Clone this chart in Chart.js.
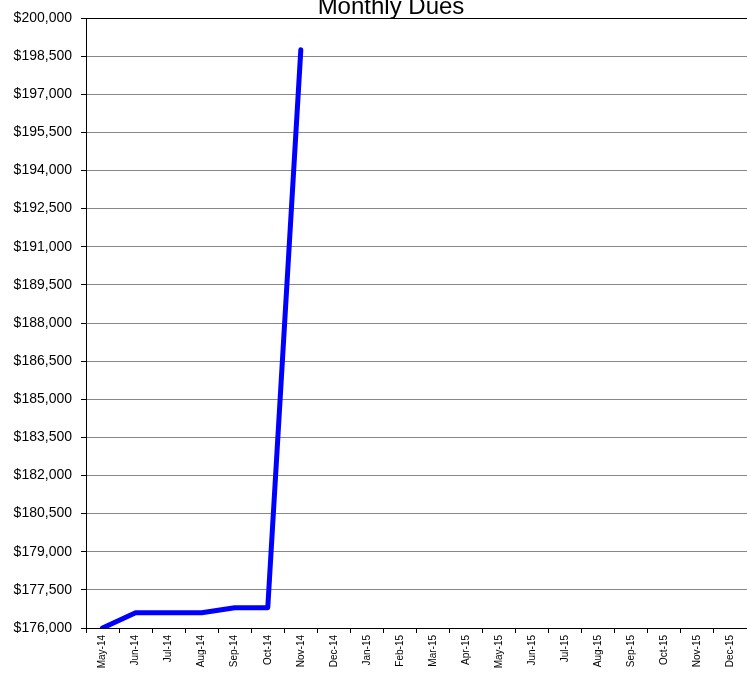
<!DOCTYPE html>
<html>
<head>
<meta charset="utf-8">
<title>Monthly Dues</title>
<script src="https://cdn.jsdelivr.net/npm/chart.js@4.4.1/dist/chart.umd.min.js"></script>
<style>
    html, body { margin: 0; padding: 0; background: #fff; overflow: hidden; }
    #wrap { position: relative; width: 747px; height: 676px; overflow: hidden; }
    #duesChart { position: absolute; left: 0; top: 0; }
    #chartTitle {
        position: absolute; left: 291px; width: 200px; top: -6px;
        text-align: center; line-height: 24px;
        font-family: "Liberation Sans", Arial, Helvetica, sans-serif;
        font-size: 24px; color: #000; white-space: nowrap;
    }
</style>
</head>
<body>
<div id="wrap">
    <canvas id="duesChart" width="747" height="676"></canvas>
    <div id="chartTitle">Monthly Dues</div>
</div>
<script>
// monthly dues data
const months = ['May-14', 'Jun-14', 'Jul-14', 'Aug-14', 'Sep-14', 'Oct-14', 'Nov-14', 'Dec-14',
    'Jan-15', 'Feb-15', 'Mar-15', 'Apr-15', 'May-15', 'Jun-15', 'Jul-15', 'Aug-15',
    'Sep-15', 'Oct-15', 'Nov-15', 'Dec-15'];
const dues = [176000, 176600, 176600, 176600, 176800, 176800, 198750, null,
    null, null, null, null, null, null, null, null, null, null, null, null];
const yMin = 176000;
const yMax = 200000;
const yStep = 1500;

const fontFamily = '"Liberation Sans", Arial, Helvetica, sans-serif';

const ctx = document.getElementById('duesChart');
new Chart(ctx.getContext('2d'), {
    type: 'line',
    data: {
        labels: months,
        datasets: [{
            label: 'Monthly Dues',
            data: dues,
            borderColor: '#0000FF',
            backgroundColor: '#0000FF',
            borderWidth: 5,
            borderJoinStyle: 'round',
            borderCapStyle: 'round',
            pointRadius: 0,
            tension: 0,
            spanGaps: false
        }]
    },
    options: {
        responsive: false,
        animation: false,
        layout: { padding: { top: 18, right: 0, bottom: 0, left: 0 } },
        plugins: {
            legend: { display: false },
            tooltip: { enabled: false },
            title: { display: false }
        },
        scales: {
            x: {
                offset: true,
                afterFit: function(scale) { scale.height = 48; },
                grid: {
                    offset: true,
                    drawOnChartArea: false,
                    drawTicks: true,
                    tickLength: 5,
                    tickColor: '#000'
                },
                border: { display: true, color: '#000', width: 1 },
                ticks: {
                    color: '#000',
                    font: { family: fontFamily, size: 10 },
                    minRotation: 90,
                    maxRotation: 90,
                    autoSkip: false,
                    padding: 2
                }
            },
            y: {
                min: yMin,
                max: yMax,
                afterFit: function(scale) { scale.width = 86; },
                grid: {
                    color: function(c) { return c.tick && c.tick.value === yMax ? '#000' : '#888'; },
                    lineWidth: 1,
                    tickLength: 5,
                    tickColor: '#000'
                },
                border: { display: true, color: '#000', width: 1 },
                ticks: {
                    stepSize: yStep,
                    color: '#000',
                    padding: 9,
                    font: { family: fontFamily, size: 14 },
                    callback: function(value) {
                        return '$' + Number(value).toLocaleString('en-US');
                    }
                }
            }
        }
    }
});
</script>
</body>
</html>
